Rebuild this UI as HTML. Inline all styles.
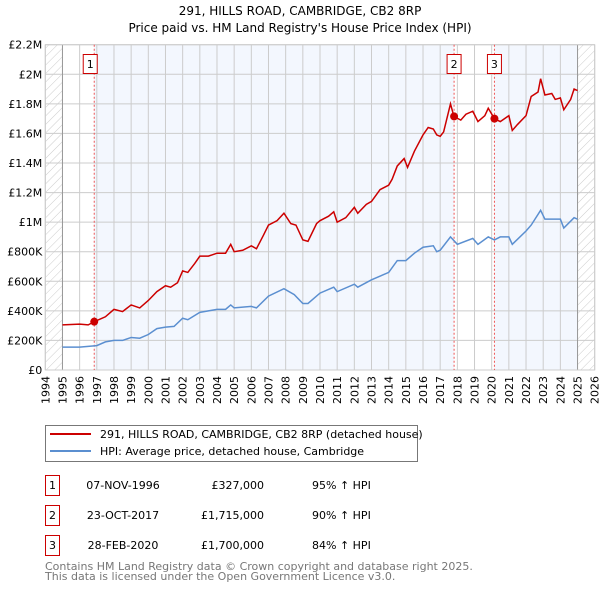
<!DOCTYPE html>
<html><head><meta charset="utf-8"><style>
body{margin:0;background:#fff;font-family:"DejaVu Sans","Liberation Sans",sans-serif;}
svg text{font-family:"DejaVu Sans","Liberation Sans",sans-serif;}
</style></head><body>
<svg id="chart" width="600" height="590" viewBox="0 0 600 590" xmlns="http://www.w3.org/2000/svg">
<defs><pattern id="hatch" patternUnits="userSpaceOnUse" width="6" height="6" patternTransform="rotate(45)"><line x1="0" y1="0" x2="0" y2="6" stroke="#ccc" stroke-width="1"/></pattern></defs>
<text x="300" y="15" font-size="12" text-anchor="middle">291, HILLS ROAD, CAMBRIDGE, CB2 8RP</text>
<text x="300" y="32" font-size="12" text-anchor="middle">Price paid vs. HM Land Registry's House Price Index (HPI)</text>
<g id="plot"></g>
<g>
<rect x="45.5" y="425.5" width="372" height="36" fill="#fff" stroke="#777"/>
<line x1="50" y1="434" x2="91" y2="434" stroke="#cc0000" stroke-width="2"/>
<text x="100" y="438" font-size="11">291, HILLS ROAD, CAMBRIDGE, CB2 8RP (detached house)</text>
<line x1="50" y1="451" x2="91" y2="451" stroke="#5b8fd0" stroke-width="2"/>
<text x="100" y="455" font-size="11">HPI: Average price, detached house, Cambridge</text>
</g>
<g id="table" font-size="11"></g>
<text x="45" y="570" font-size="11" fill="#777">Contains HM Land Registry data © Crown copyright and database right 2025.</text>
<text x="45" y="580" font-size="11" fill="#777">This data is licensed under the Open Government Licence v3.0.</text>
</svg>
<script>
const redYears=[1995,1996,1996.5,1996.85,1997.5,1998,1998.5,1999,1999.5,2000,2000.5,2001,2001.3,2001.7,2002,2002.3,2002.7,2003,2003.5,2004,2004.5,2004.8,2005,2005.5,2006,2006.3,2006.7,2007,2007.5,2007.9,2008.3,2008.6,2009,2009.3,2009.8,2010,2010.5,2010.8,2011,2011.5,2012,2012.2,2012.7,2013,2013.5,2014,2014.2,2014.5,2014.9,2015.1,2015.5,2016,2016.3,2016.6,2016.8,2017,2017.2,2017.6,2017.8,2018.2,2018.5,2018.9,2019.2,2019.6,2019.8,2020.16,2020.5,2021,2021.2,2021.5,2022,2022.3,2022.7,2022.85,2023.1,2023.5,2023.7,2024,2024.2,2024.6,2024.8,2025];
const redValues=[0.305,0.31,0.305,0.327,0.36,0.41,0.395,0.44,0.42,0.47,0.53,0.57,0.56,0.59,0.67,0.66,0.72,0.77,0.77,0.79,0.79,0.85,0.80,0.81,0.84,0.82,0.91,0.98,1.01,1.06,0.99,0.98,0.88,0.87,0.99,1.01,1.04,1.07,1.00,1.03,1.10,1.06,1.12,1.14,1.22,1.25,1.29,1.38,1.43,1.37,1.48,1.59,1.64,1.63,1.59,1.58,1.61,1.80,1.715,1.69,1.73,1.75,1.68,1.72,1.77,1.70,1.68,1.72,1.62,1.66,1.72,1.85,1.88,1.97,1.86,1.87,1.83,1.84,1.76,1.83,1.90,1.89];
const hpiYears=[1995,1996,1997,1997.5,1998,1998.5,1999,1999.5,2000,2000.5,2001,2001.5,2002,2002.3,2003,2003.5,2004,2004.5,2004.8,2005,2006,2006.3,2007,2007.9,2008.5,2009,2009.3,2010,2010.8,2011,2012,2012.2,2013,2014,2014.5,2015,2015.5,2016,2016.6,2016.8,2017,2017.6,2018,2018.9,2019.2,2019.8,2020.16,2020.5,2021,2021.2,2022,2022.3,2022.85,2023.1,2024,2024.2,2024.8,2025];
const hpiValues=[0.155,0.155,0.165,0.19,0.2,0.2,0.22,0.215,0.24,0.28,0.29,0.295,0.35,0.34,0.39,0.4,0.41,0.41,0.44,0.42,0.43,0.42,0.5,0.55,0.51,0.45,0.45,0.52,0.56,0.53,0.58,0.56,0.61,0.66,0.74,0.74,0.79,0.83,0.84,0.80,0.81,0.9,0.85,0.89,0.85,0.9,0.88,0.9,0.90,0.85,0.94,0.98,1.08,1.02,1.02,0.96,1.03,1.02];
const saleLabels=["1","2","3"];
const saleYears=[1996.85,2017.81,2020.16];
const saleValues=[0.327,1.715,1.70];
const saleDates=["07-NOV-1996","23-OCT-2017","28-FEB-2020"];
const salePrices=["£327,000","£1,715,000","£1,700,000"];
const saleHpi=["95% ↑ HPI","90% ↑ HPI","84% ↑ HPI"];
const yTicks=[0,0.2,0.4,0.6,0.8,1,1.2,1.4,1.6,1.8,2,2.2];
const yTickLabels=["£0","£200K","£400K","£600K","£800K","£1M","£1.2M","£1.4M","£1.6M","£1.8M","£2M","£2.2M"];

const NS="http://www.w3.org/2000/svg";
const X0=45.3,X1=594.7,Y0=370,Y1=44.7;
const x=y=>X0+(y-1994)*(X1-X0)/32;
const yv=v=>Y0-v*(Y0-Y1)/2.2;
const plot=document.getElementById('plot');
function mk(tag,attrs,parent){const e=document.createElementNS(NS,tag);for(const k in attrs)e.setAttribute(k,attrs[k]);(parent||plot).appendChild(e);return e;}
let e;
e=mk('rect',{x:X0,y:Y1,width:X1-X0,height:Y0-Y1,fill:'#fff'});


e=mk('rect',{x:x(saleYears[0]),y:Y1,width:x(saleYears[1])-x(saleYears[0]),height:Y0-Y1,fill:'#f3f7fe'});


e=mk('rect',{x:x(saleYears[2]),y:Y1,width:x(2025)-x(saleYears[2]),height:Y0-Y1,fill:'#f3f7fe'});


e=mk('rect',{x:X0,y:Y1,width:x(1995)-X0,height:Y0-Y1,fill:'url(#hatch)'});


e=mk('rect',{x:x(2025),y:Y1,width:X1-x(2025),height:Y0-Y1,fill:'url(#hatch)'});


for(let yr=1994;yr<=2026;yr++){
  e=mk('line',{x1:x(yr),x2:x(yr),y1:Y1,y2:Y0,stroke:'#cccccc','stroke-width':1});
  
  
  e=mk('text',{x:0,y:0,'font-size':11,'text-anchor':'end',transform:`translate(${x(yr)+4},${Y0+6}) rotate(-90)`});
  e.textContent=yr;
  
  
}
yTicks.forEach((t,i)=>{
  e=mk('line',{x1:X0,x2:X1,y1:yv(t),y2:yv(t),stroke:'#cccccc','stroke-width':1});
  
  
  e=mk('text',{x:X0-3,y:yv(t)+4,'font-size':11,'text-anchor':'end'});
  e.textContent=yTickLabels[i];
  
  
});
[1995,2025].forEach(yr=>{
  e=mk('line',{x1:x(yr),x2:x(yr),y1:Y1,y2:Y0,stroke:'#999','stroke-width':1});
  
  
});
e=mk('rect',{x:X0,y:Y1,width:X1-X0,height:Y0-Y1,fill:'none',stroke:'#ccc'});


saleYears.forEach((s,i)=>{
  e=mk('line',{x1:x(s),x2:x(s),y1:Y1,y2:Y0,stroke:'#ee5555','stroke-width':1,'stroke-dasharray':'2,2'});
  
  
});
e=mk('polyline',{points:hpiYears.map((t,i)=>x(t)+','+yv(hpiValues[i])).join(' '),fill:'none',stroke:'#5b8fd0','stroke-width':1.5});


e=mk('polyline',{points:redYears.map((t,i)=>x(t)+','+yv(redValues[i])).join(' '),fill:'none',stroke:'#cc0000','stroke-width':1.5});


saleYears.forEach((s,i)=>{
  e=mk('circle',{cx:x(s),cy:yv(saleValues[i]),r:4,fill:'#cc0000'});
  
  
  const bx=x(s)-7-(i==0?4:0);
  e=mk('rect',{x:bx,y:54.5,width:14,height:19,fill:'#fff',stroke:'#cc0000'});
  
  
  e=mk('text',{x:bx+7,y:68,'font-size':11,'text-anchor':'middle'});
  e.textContent=saleLabels[i];
  
  
});
const tbl=document.getElementById('table');
const rowsY=[475,505,535];
saleLabels.forEach((l,i)=>{
  const y0=rowsY[i];
  e=mk('rect',{x:45.5,y:y0+0.5,width:14,height:20,fill:'#fff',stroke:'#cc0000'},tbl);
  
  
  const cols=[[52.5,'middle',l,'row-number'],[123,'middle',saleDates[i],'sale-date'],[264,'end',salePrices[i],'sale-price'],[312,'start',saleHpi[i],'hpi-change']];
  cols.forEach(c=>{
    e=mk('text',{x:c[0],y:y0+14,'text-anchor':c[1]},tbl);
    e.textContent=c[2];
    
    
  });
});
</script>
</body></html>
